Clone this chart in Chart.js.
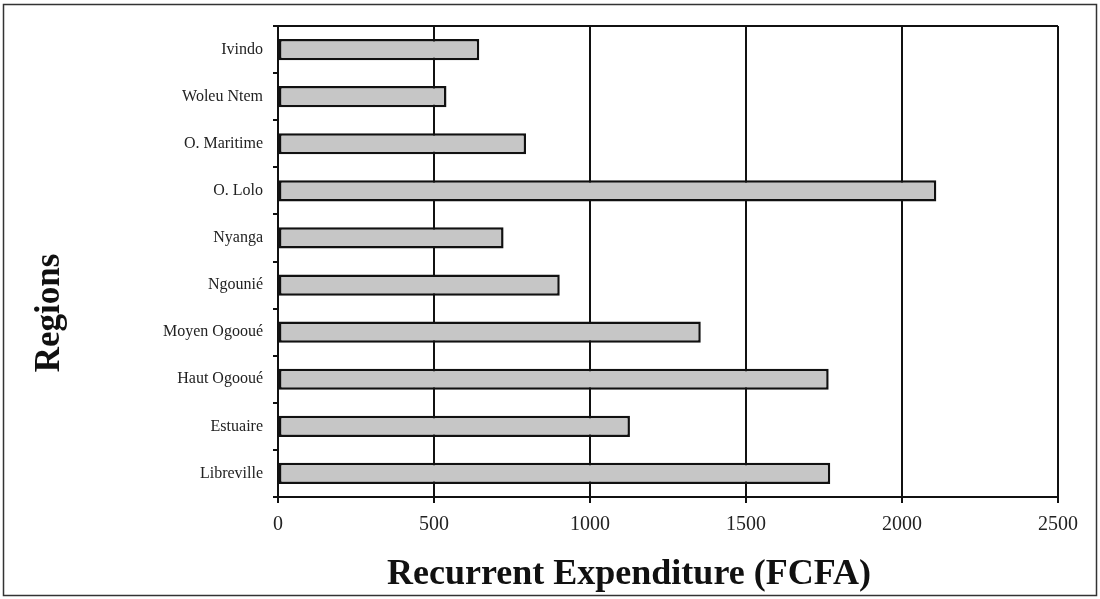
<!DOCTYPE html>
<html>
<head>
<meta charset="utf-8">
<script src="https://cdn.jsdelivr.net/npm/chart.js@4.4.1/dist/chart.umd.min.js"></script>
<style>
  html, body { margin: 0; padding: 0; background: #fff; }
  #wrap { width: 1100px; height: 599px; position: relative; }
</style>
</head>
<body>
<div id="wrap"><canvas id="c" width="1100" height="599"></canvas></div>
<script>
// ---- data ----
const categories = ["Ivindo", "Woleu Ntem", "O. Maritime", "O. Lolo", "Nyanga", "Ngounié",
                    "Moyen Ogooué", "Haut Ogooué", "Estuaire", "Libreville"];
const expenditure = [645, 540, 795, 2110, 723, 903, 1355, 1765, 1128, 1770];
const xTickValues = [0, 500, 1000, 1500, 2000, 2500];
const xTitle = "Recurrent Expenditure (FCFA)";
const yTitle = "Regions";

const serif = '"Liberation Serif", "Times New Roman", serif';

const framePlugin = {
  id: 'frame',
  beforeDraw(chart) {
    const ctx = chart.ctx;
    ctx.save();
    ctx.fillStyle = '#fff';
    ctx.fillRect(0, 0, chart.width, chart.height);
    ctx.strokeStyle = '#333';
    ctx.lineWidth = 1.5;
    ctx.strokeRect(3.5, 4.5, chart.width - 7, chart.height - 8);
    ctx.restore();
  },
  afterDraw(chart) {
    const ctx = chart.ctx, a = chart.chartArea;
    ctx.save();
    ctx.strokeStyle = '#111';
    ctx.lineWidth = 2;
    ctx.beginPath();
    ctx.moveTo(a.left, a.top);
    ctx.lineTo(a.right, a.top);
    ctx.stroke();
    // axis titles
    ctx.fillStyle = '#111';
    ctx.font = 'bold 36px ' + serif;
    ctx.textAlign = 'center';
    ctx.textBaseline = 'middle';
    ctx.fillText(xTitle, 629, 575);
    ctx.font = 'bold 35px ' + serif;
    ctx.translate(50, 313);
    ctx.rotate(-Math.PI / 2);
    ctx.fillText(yTitle, 0, 0);
    ctx.restore();
  }
};

new Chart(document.getElementById('c'), {
  type: 'bar',
  data: {
    labels: categories,
    datasets: [{
      data: expenditure,
      backgroundColor: '#c6c6c6',
      borderColor: '#111',
      borderWidth: 2.5,
      borderSkipped: false,
      barPercentage: 0.45,
      categoryPercentage: 1.0
    }]
  },
  options: {
    indexAxis: 'y',
    responsive: false,
    animation: false,
    layout: { padding: { top: 26, right: 42, left: 0, bottom: 0 } },
    plugins: { legend: { display: false }, tooltip: { enabled: false } },
    scales: {
      x: {
        min: 0, max: 2500,
        afterBuildTicks(scale) { scale.ticks = xTickValues.map(v => ({ value: v })); },
        afterFit(scale) { scale.height = 102; },
        border: { display: true, color: '#111', width: 2 },
        grid: { color: '#111', lineWidth: 2, tickLength: 6, drawTicks: true },
        ticks: { color: '#222', font: { family: serif, size: 20 }, padding: 10, maxRotation: 0,
                 callback: (v) => String(v) }
      },
      y: {
        afterFit(scale) { scale.width = 278; },
        border: { display: true, color: '#111', width: 2 },
        grid: { display: true, drawOnChartArea: false, offset: true, color: '#111', lineWidth: 2, tickLength: 5 },
        ticks: { color: '#222', font: { family: serif, size: 16 }, padding: 10 }
      }
    }
  },
  plugins: [framePlugin]
});
</script>
</body>
</html>
